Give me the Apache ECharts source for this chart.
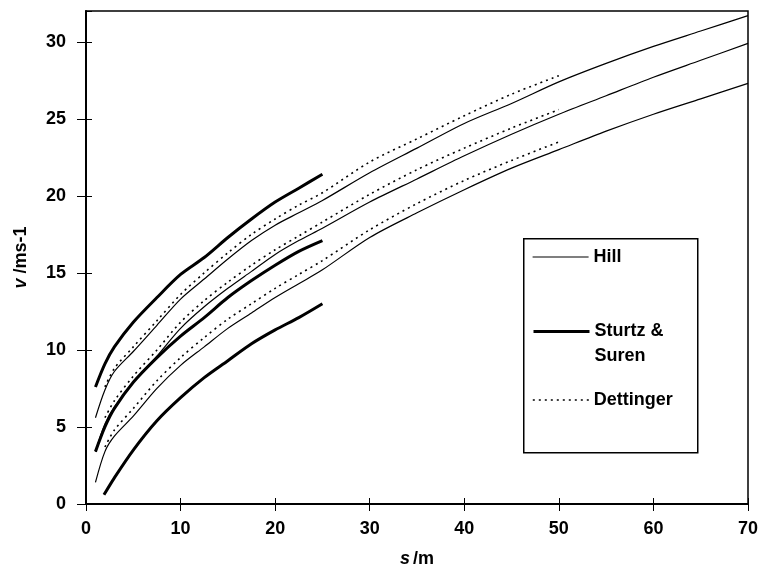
<!DOCTYPE html>
<html>
<head>
	<meta charset="utf-8">
	<title>v - s</title>
	<script type="text/javascript" src="https://cdn.jsdelivr.net/npm/echarts@6/dist/echarts.min.js"></script>
</head>
<style type="text/css">
body {
	margin: 0;
	background: #fff;
}

#chart {
	width: 762px;
	height: 581px;
}
</style>
<body>
	<div id="chart"></div>
</body>

<script type="text/javascript">
	// 数据: s (m) 与 v (m/s)
	var sHill = [1, 2, 3, 5, 7.5, 10, 12.5, 15, 17.5, 20, 22.5, 25, 30, 35, 40, 45, 50, 55, 60, 65, 70];
	var hillTop = [5.6, 7.4, 8.6, 9.9, 11.6, 13.3, 14.6, 15.9, 17.1, 18.1, 18.9, 19.7, 21.5, 23.1, 24.7, 26.0, 27.4, 28.6, 29.7, 30.7, 31.7];
	var hillMid = [3.4, 5.2, 6.3, 7.9, 9.6, 11.4, 12.8, 14.0, 15.1, 16.2, 17.1, 17.9, 19.6, 21.1, 22.6, 24.0, 25.3, 26.5, 27.7, 28.8, 29.9];
	var hillLow = [1.4, 3.4, 4.4, 5.7, 7.5, 9.0, 10.2, 11.4, 12.4, 13.4, 14.3, 15.2, 17.3, 18.9, 20.4, 21.8, 23.0, 24.2, 25.3, 26.3, 27.3];

	var sSturtz = [1, 2, 3, 5, 7.5, 10, 12.5, 15, 17.5, 20, 22.5, 25];
	var sturtzTop = [7.6, 9.1, 10.2, 11.8, 13.4, 14.9, 16.0, 17.3, 18.5, 19.6, 20.5, 21.4];
	var sturtzMid = [3.4, 5.0, 6.2, 7.9, 9.5, 10.9, 12.1, 13.4, 14.5, 15.5, 16.4, 17.1];
	var sSturtzLow = [1.9, 3, 5, 7.5, 10, 12.5, 15, 17.5, 20, 22.5, 25];
	var sturtzLow = [0.6, 1.7, 3.5, 5.4, 6.9, 8.2, 9.3, 10.4, 11.3, 12.1, 13.0];

	var sDett = [2, 3, 5, 7.5, 10, 12.5, 15, 17.5, 20, 22.5, 25, 30, 35, 40, 45, 50];
	var dettTop = [7.6, 8.8, 10.2, 11.9, 13.6, 15.0, 16.3, 17.5, 18.5, 19.4, 20.2, 22.2, 23.7, 25.2, 26.6, 27.8];
	var dettMid = [5.6, 6.7, 8.3, 10.0, 11.8, 13.2, 14.4, 15.5, 16.5, 17.4, 18.3, 20.1, 21.7, 23.1, 24.4, 25.6];
	var dettLow = [3.7, 4.8, 6.2, 8.0, 9.5, 10.8, 12.0, 13.0, 14.0, 14.9, 15.8, 17.8, 19.5, 21.0, 22.3, 23.5];

	function pairs(xs, ys) {
		var out = [];
		for (var i = 0; i < xs.length; i++) {
			out.push([xs[i], ys[i]]);
		}
		return out;
	}

	var font = 'Liberation Sans, Arial, sans-serif';
	var hillStyle = { color: '#000', width: 1.2, type: 'solid' };
	var sturtzStyle = { color: '#000', width: 3, type: 'solid' };
	var dettStyle = { color: '#000', width: 1.6, type: [2, 4] };

	function line(name, data, style) {
		return {
			name: name,
			type: 'line',
			data: data,
			smooth: 0.3,
			showSymbol: false,
			symbol: 'none',
			color: '#000',
			lineStyle: style,
			silent: true
		};
	}

	var legendText = { fontFamily: font, fontWeight: 'bold', fontSize: 18, color: '#000', lineHeight: 22 };
	var legendText2 = { fontFamily: font, fontWeight: 'bold', fontSize: 18, color: '#000', lineHeight: 25 };
	// 图例只画线，不画点
	var noDot = { opacity: 0 };

	var Chart = echarts.init(document.getElementById('chart'));

	var option = {
		animation: false,
		backgroundColor: '#fff',
		grid: {
			left: 86,
			right: 14,
			top: 11,
			bottom: 77,
			show: true,
			borderColor: '#000',
			borderWidth: 1.5
		},
		graphic: [
			{
				type: 'rect',
				left: 523,
				top: 238,
				shape: { width: 174, height: 214 },
				style: { fill: '#fff', stroke: '#000', lineWidth: 1.5 },
				z: 5
			}
		],
		legend: [
			{
				data: ['Hill'], left: 532, top: 246, padding: 0, itemWidth: 56, itemHeight: 14,
				itemStyle: noDot, lineStyle: { width: 1.2 },
				textStyle: legendText, z: 10
			},
			{
				data: ['Sturtz & Suren'], left: 532, top: 294, padding: 0, itemWidth: 56, itemHeight: 14,
				itemStyle: noDot, lineStyle: { width: 3 },
				formatter: function () { return '\nSturtz &\nSuren'; },
				textStyle: legendText2, z: 10
			},
			{
				data: ['Dettinger'], left: 532, top: 389, padding: 0, itemWidth: 56, itemHeight: 14,
				itemStyle: noDot, lineStyle: { width: 1.6 },
				textStyle: legendText, z: 10
			}
		],
		xAxis: [
			{
				type: 'value',
				min: 0,
				max: 70,
				interval: 10,
				name: '{i|s}{n|/m}',
				nameLocation: 'middle',
				nameGap: 46,
				nameTextStyle: {
					rich: {
						i: { fontFamily: font, fontSize: 18, fontWeight: 'bold', fontStyle: 'italic', color: '#000', padding: [0, 3, 0, 0] },
						n: { fontFamily: font, fontSize: 18, fontWeight: 'bold', color: '#000' }
					}
				},
				axisLine: { show: true, lineStyle: { color: '#000', width: 2 } },
				axisTick: { show: true, length: 7, lineStyle: { color: '#000', width: 1 } },
				axisLabel: { color: '#000', fontFamily: font, fontSize: 18, fontWeight: 'bold', margin: 16 },
				splitLine: { show: false }
			},
			{
				type: 'value',
				position: 'bottom',
				min: 0,
				max: 70,
				interval: 10,
				axisLine: { show: false },
				axisTick: { show: true, inside: true, length: 6, lineStyle: { color: '#000', width: 1 } },
				axisLabel: { show: false },
				splitLine: { show: false }
			}
		],
		yAxis: [
			{
				type: 'value',
				min: 0,
				max: 32,
				interval: 5,
				name: '{i|v}{n| /ms-1}',
				nameLocation: 'middle',
				nameGap: 56,
				nameTextStyle: {
					rich: {
						i: { fontFamily: font, fontSize: 18, fontWeight: 'bold', fontStyle: 'italic', color: '#000' },
						n: { fontFamily: font, fontSize: 18, fontWeight: 'bold', color: '#000' }
					}
				},
				axisLine: { show: true, lineStyle: { color: '#000', width: 2 } },
				axisTick: { show: true, length: 9, lineStyle: { color: '#000', width: 1 } },
				axisLabel: { color: '#000', fontFamily: font, fontSize: 18, fontWeight: 'bold', margin: 20, showMaxLabel: false },
				splitLine: { show: false }
			},
			{
				type: 'value',
				position: 'left',
				min: 0,
				max: 32,
				interval: 5,
				axisLine: { show: false },
				axisTick: { show: true, inside: true, length: 6, lineStyle: { color: '#000', width: 1 } },
				axisLabel: { show: false },
				splitLine: { show: false }
			}
		],
		series: [
			line('Hill', pairs(sHill, hillTop), hillStyle),
			line('Hill', pairs(sHill, hillMid), hillStyle),
			line('Hill', pairs(sHill, hillLow), hillStyle),
			line('Sturtz & Suren', pairs(sSturtz, sturtzTop), sturtzStyle),
			line('Sturtz & Suren', pairs(sSturtz, sturtzMid), sturtzStyle),
			line('Sturtz & Suren', pairs(sSturtzLow, sturtzLow), sturtzStyle),
			line('Dettinger', pairs(sDett, dettTop), dettStyle),
			line('Dettinger', pairs(sDett, dettMid), dettStyle),
			line('Dettinger', pairs(sDett, dettLow), dettStyle)
		]
	};
	Chart.setOption(option);
</script>
</html>
